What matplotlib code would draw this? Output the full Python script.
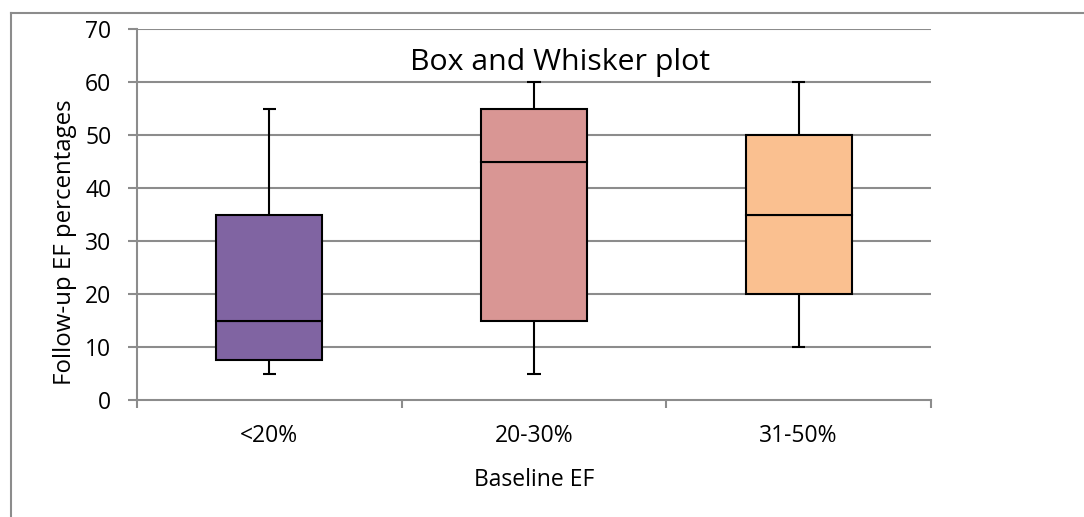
import matplotlib.pyplot as plt
from matplotlib.lines import Line2D
import numpy as np

plt.rcParams['font.family'] = ['Open Sans', 'DejaVu Sans']

# Box and whisker values
categories = ["<20%", "20-30%", "31-50%"]
mins = [5, 5, 10]
q1 = [7.5, 15, 20]
medians = [15, 45, 35]
q3 = [35, 55, 50]
maxs = [55, 60, 60]
colors = ["#8064A2", "#D99694", "#FAC090"]

fig = plt.figure(figsize=(10.84, 5.17), dpi=100)
ax = fig.add_axes([137/1084, 1 - 400/517, (931 - 137)/1084, (400 - 29)/517])

x = np.arange(len(categories))
width = 0.4
grid_col = "#8C8C8C"

# gridlines
for v in range(10, 71, 10):
    ax.axhline(v, color=grid_col, lw=1.5, zorder=0)

# whiskers
cap = 0.025
for i in range(len(categories)):
    ax.vlines(x[i], q3[i], maxs[i], color="black", lw=1.5, zorder=2)
    ax.vlines(x[i], mins[i], q1[i], color="black", lw=1.5, zorder=2)
    ax.hlines([mins[i], maxs[i]], x[i] - cap, x[i] + cap, color="black", lw=1.5, zorder=2)

# boxes split at the median
lower = np.array(medians) - np.array(q1)
upper = np.array(q3) - np.array(medians)
ax.bar(x, lower, width, bottom=q1, color=colors, edgecolor="black", lw=1.5, zorder=3)
ax.bar(x, upper, width, bottom=medians, color=colors, edgecolor="black", lw=1.5, zorder=3)

ax.set_xlim(-0.5, 2.5)
ax.set_ylim(0, 70)
ax.set_yticks(range(0, 71, 10))
ax.set_xticks(x)
ax.set_xticklabels(categories)
ax.set_xticks([-0.5, 0.5, 1.5, 2.5], minor=True)
ax.tick_params(axis="x", which="major", length=0, pad=17, labelsize=16.5)
ax.tick_params(axis="x", which="minor", length=6, width=1.5, color=grid_col, direction="out")
ax.tick_params(axis="y", length=6.5, width=1.5, color=grid_col, direction="out", labelsize=16.5, pad=12)

for s in ["top", "right"]:
    ax.spines[s].set_visible(False)
for s in ["left", "bottom"]:
    ax.spines[s].set_color(grid_col)
    ax.spines[s].set_linewidth(1.5)

ax.set_xlabel("Baseline EF", fontsize=16.5, labelpad=15)
ax.set_ylabel("Follow-up EF percentages", fontsize=17.3)
ax.yaxis.set_label_coords(-0.075, 0.426)
ax.text(0.533, 0.909, "Box and Whisker plot", ha="center", va="center",
        fontsize=21.8, transform=ax.transAxes)

# outer chart frame
fx0, fy0 = 11/1084, 1 - 13/517
fig.add_artist(Line2D([fx0, 1], [fy0, fy0], color="#8C8C8C", lw=1.5))
fig.add_artist(Line2D([fx0, fx0], [fy0, 0], color="#8C8C8C", lw=1.5))

fig.savefig("out.png", dpi=100)
